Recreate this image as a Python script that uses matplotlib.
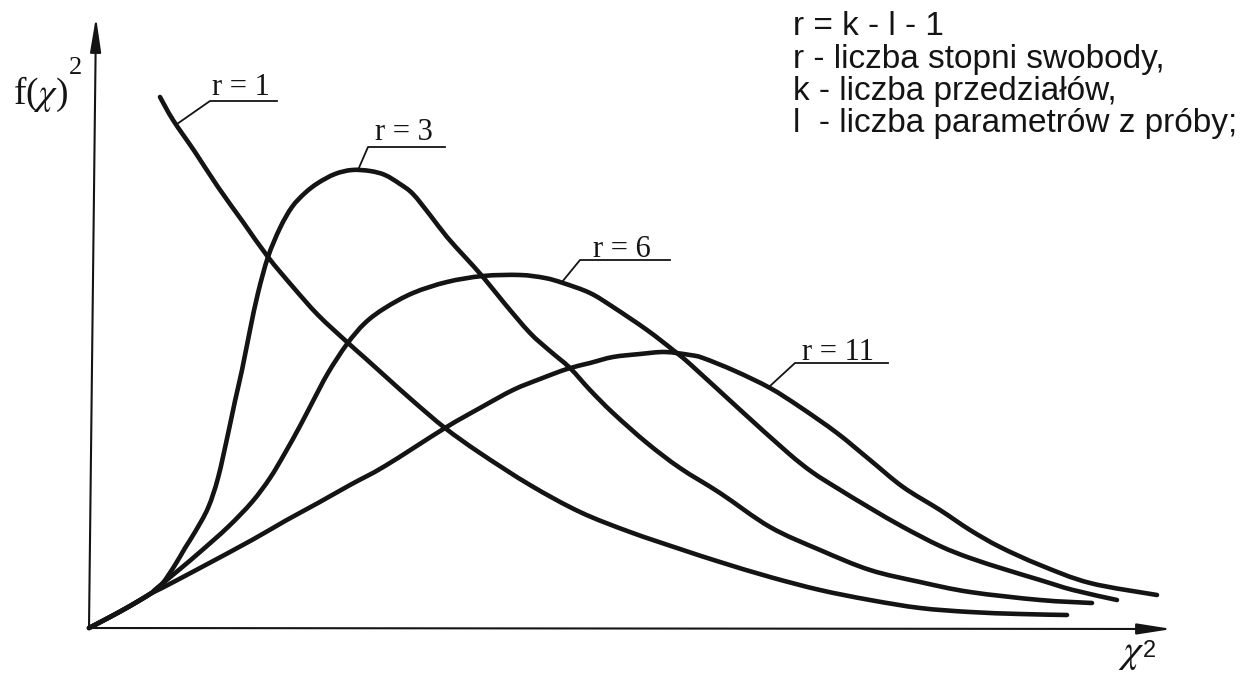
import matplotlib
matplotlib.use("Agg")
import matplotlib.pyplot as plt
from matplotlib.path import Path
from matplotlib.patches import PathPatch

plt.rcParams["mathtext.fontset"] = "stix"

# ---- data (arbitrary chart units) ----
blob_x = [0.0, 2.1, 4.1, 6.1]
blob_y = [0.0, 1.1, 2.2, 3.4]

r1_x = [7.1, 8.4, 10.6, 12.9, 15.4, 17.9, 20.4, 22.9, 25.8, 27.6, 29.6, 32.4, 35.6, 39.1,
        44.1, 49.1, 54.1, 59.1, 63.1, 68.1, 73.1, 78.1, 83.1, 88.1, 93.1, 97.8]
r1_y = [53.1, 50.8, 47.6, 44.1, 40.6, 37.1, 34.1, 31.3, 28.6, 27.0, 25.2, 22.7, 20.0, 17.5,
        14.3, 11.6, 9.6, 7.9, 6.6, 5.1, 3.8, 2.8, 2.0, 1.6, 1.4, 1.3]

r3_x = blob_x + [7.3, 8.6, 9.6, 10.6, 11.9, 12.9, 13.9, 14.6, 15.3, 16.1, 16.9, 17.9, 19.1,
                 20.3, 21.6, 22.9, 24.6, 26.3, 28.1, 29.6, 31.1, 32.4, 34.1, 35.8, 37.6,
                 39.4, 41.6, 44.1, 46.1, 48.1, 50.1, 52.4, 55.8, 59.1, 63.1, 68.1, 73.1,
                 78.1, 83.1, 88.1, 95.1, 100.3]
r3_y = blob_y + [4.4, 6.3, 8.0, 9.6, 12.0, 15.0, 19.4, 22.7, 25.8, 29.8, 33.5, 37.1, 40.0,
                 42.1, 43.5, 44.5, 45.4, 45.8, 45.7, 45.3, 44.4, 43.4, 41.3, 39.1, 37.1,
                 35.1, 32.4, 29.5, 27.7, 26.0, 23.8, 21.5, 18.5, 16.0, 13.5, 10.1, 7.8,
                 5.8, 4.6, 3.6, 2.8, 2.5]

r6_x = blob_x + [6.8, 9.1, 11.1, 13.9, 16.3, 18.1, 19.6, 21.1, 22.3, 23.9, 25.8, 27.6, 29.6,
                 32.4, 35.8, 39.4, 43.1, 45.6, 47.4, 50.1, 52.4, 55.8, 58.4, 60.1, 64.8,
                 69.8, 72.3, 74.8, 78.1, 81.4, 85.1, 88.1, 91.8, 95.1, 98.4, 102.8]
r6_y = blob_y + [4.0, 5.9, 7.6, 10.1, 12.6, 15.0, 17.5, 20.2, 22.5, 25.5, 28.4, 30.5, 32.0,
                 33.5, 34.6, 35.2, 35.3, 35.0, 34.5, 33.5, 32.1, 29.8, 27.8, 26.4, 22.1,
                 17.6, 15.6, 14.0, 12.0, 10.1, 8.2, 7.0, 5.8, 4.8, 3.8, 2.8]

r11_x = blob_x + [7.3, 11.1, 16.3, 19.6, 22.9, 26.1, 29.6, 35.6, 39.1, 42.4, 45.1, 47.8,
                  50.1, 52.4, 55.1, 57.6, 60.1, 61.4, 64.6, 68.1, 71.1, 74.8, 78.1, 81.4,
                  85.1, 88.1, 91.1, 95.1, 100.1, 106.8]
r11_y = blob_y + [4.0, 6.0, 8.8, 10.7, 12.5, 14.3, 16.2, 20.0, 22.0, 23.8, 24.9, 25.9,
                  26.5, 27.1, 27.4, 27.6, 27.3, 27.0, 25.7, 24.0, 22.1, 19.5, 16.8, 14.1,
                  11.8, 9.8, 8.1, 6.3, 4.5, 3.3]

curve_labels = ["r = 1", "r = 3", "r = 6", "r = 11"]
# label text anchor, underline start, underline end, leader target on the curve
label_text_xy = [(12.3, 53.3), (28.6, 48.8), (50.4, 37.1), (71.3, 26.8)]
underline_left = [(12.1, 52.7), (27.9, 48.1), (49.1, 36.8), (70.6, 26.5)]
underline_right_x = [18.8, 35.6, 58.1, 79.9]
leader_target = [(8.8, 50.4), (26.9, 45.8), (47.3, 34.6), (68.1, 24.2)]

legend_lines = ["r = k - l - 1",
                "r - liczba stopni swobody,",
                "k - liczba przedziałów,",
                "l  - liczba parametrów z próby;"]
legend_baselines = [59.3, 56.0, 52.8, 49.6]

INK = "#141414"
SERIF = ["Liberation Serif", "DejaVu Serif"]
SANS = ["Liberation Sans", "DejaVu Sans"]


def smooth_path(xs, ys):
    """Smooth curve passing through every given point (Catmull-Rom as cubic Bezier)."""
    pts = list(zip(xs, ys))
    n = len(pts)
    verts = [pts[0]]
    codes = [Path.MOVETO]
    for i in range(n - 1):
        p0 = pts[i - 1] if i > 0 else pts[i]
        p1 = pts[i]
        p2 = pts[i + 1]
        p3 = pts[i + 2] if i + 2 < n else pts[i + 1]
        c1 = (p1[0] + (p2[0] - p0[0]) / 6.0, p1[1] + (p2[1] - p0[1]) / 6.0)
        c2 = (p2[0] - (p3[0] - p1[0]) / 6.0, p2[1] - (p3[1] - p1[1]) / 6.0)
        verts += [c1, c2, p2]
        codes += [Path.CURVE4] * 3
    return Path(verts, codes)


W, H = 1246, 675
fig = plt.figure(figsize=(W / 100, H / 100), dpi=100)
fig.patch.set_facecolor("white")
ax = fig.add_axes([89 / W, (H - 628) / H, (W - 89) / W, 628 / H])
ax.set_xlim(0, (W - 89) / 10)
ax.set_ylim(0, 628 / 10)
ax.axis("off")

# axes with arrows
arrow_kw = dict(arrowstyle="-|>,head_length=2.1,head_width=0.33", lw=1.5, color=INK,
                shrinkA=0, shrinkB=0, mutation_scale=10)
ax.annotate("", xy=(0.7, 61.1), xytext=(0.0, 0.0), arrowprops=arrow_kw, annotation_clip=False)
ax.annotate("", xy=(108.3, -0.1), xytext=(0.0, 0.0), arrowprops=arrow_kw, annotation_clip=False)

# curves
for xs, ys in [(r1_x, r1_y), (r3_x, r3_y), (r6_x, r6_y), (r11_x, r11_y)]:
    patch = PathPatch(smooth_path(xs, ys), facecolor="none", edgecolor=INK, lw=3.3,
                      capstyle="round", joinstyle="round", clip_on=False)
    ax.add_patch(patch)

# curve labels with underline and leader
for lab, (tx, ty), (ux, uy), urx, (lx, ly) in zip(curve_labels, label_text_xy, underline_left,
                                                   underline_right_x, leader_target):
    ax.text(tx, ty, lab, family=SERIF, fontsize=22, color=INK, ha="left", va="baseline")
    ax.plot([lx, ux, urx], [ly, uy, uy], color=INK, lw=1.3, clip_on=False)

# axis labels
ax.text(-7.6, 52.4, r"f($\chi$)", family=SERIF, fontsize=27, color=INK, ha="left", va="baseline")
ax.text(-2.0, 55.4, "2", family=SERIF, fontsize=19, color=INK, ha="left", va="baseline")
ax.text(102.9, -3.4, r"$\chi$", family=SERIF, fontsize=29, color=INK, ha="left", va="baseline")
ax.text(105.4, -2.9, "2", family=SANS, fontsize=17, color=INK, ha="left", va="baseline")

# explanatory text
for txt, yb in zip(legend_lines, legend_baselines):
    ax.text(70.4, yb, txt, family=SANS, fontsize=24, color=INK, ha="left", va="baseline")

fig.savefig("out.png", dpi=100, facecolor="white")
